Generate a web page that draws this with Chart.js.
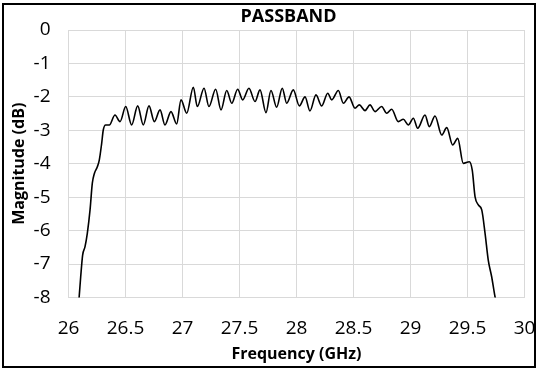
<!DOCTYPE html>
<html>
<head>
<meta charset="utf-8">
<script src="https://cdn.jsdelivr.net/npm/chart.js@4.4.1/dist/chart.umd.min.js"></script>
<style>
  html, body { margin: 0; padding: 0; background: #fff; }
  #wrap { position: relative; width: 539px; height: 370px; }
</style>
</head>
<body>
<div id="wrap"><canvas id="c" width="539" height="370"></canvas></div>
<script>
const chartTitle = "PASSBAND";
const xAxisTitle = "Frequency (GHz)";
const yAxisTitle = "Magnitude (dB)";

// Frequency (GHz)
const frequency = [
  26.092, 26.107, 26.124, 26.145, 26.165, 26.189, 26.209, 26.227, 26.253, 26.270,
  26.291, 26.305, 26.326, 26.358, 26.408, 26.452, 26.502, 26.554, 26.607, 26.656,
  26.706, 26.753, 26.803, 26.846, 26.899, 26.949, 26.987, 27.037, 27.095, 27.130,
  27.189, 27.232, 27.291, 27.338, 27.388, 27.432, 27.484, 27.528, 27.583, 27.636,
  27.680, 27.732, 27.776, 27.826, 27.875, 27.914, 27.972, 28.025, 28.075, 28.118,
  28.171, 28.221, 28.274, 28.309, 28.367, 28.411, 28.461, 28.513, 28.551, 28.601,
  28.645, 28.689, 28.747, 28.791, 28.835, 28.893, 28.937, 28.981, 29.025, 29.063,
  29.127, 29.165, 29.215, 29.274, 29.318, 29.370, 29.414, 29.463, 29.516, 29.542,
  29.566, 29.595, 29.625, 29.654, 29.682, 29.712, 29.741, 29.746
];
// Magnitude (dB)
const magnitude = [
  -8.05, -7.38, -6.73, -6.48, -6.08, -5.38, -4.58, -4.29, -4.09, -3.89,
  -3.39, -2.99, -2.84, -2.84, -2.54, -2.74, -2.29, -2.84, -2.27, -2.84,
  -2.27, -2.74, -2.39, -2.84, -2.44, -2.81, -2.09, -2.49, -1.71, -2.29,
  -1.74, -2.29, -1.77, -2.39, -1.81, -2.19, -1.77, -2.09, -1.74, -2.14,
  -1.79, -2.47, -1.81, -2.31, -1.74, -2.19, -1.79, -2.27, -2.00, -2.42,
  -1.94, -2.27, -1.89, -2.09, -1.81, -2.19, -2.00, -2.34, -2.24, -2.41,
  -2.24, -2.44, -2.29, -2.49, -2.37, -2.74, -2.67, -2.84, -2.64, -2.94,
  -2.54, -2.89, -2.57, -3.14, -2.92, -3.44, -3.24, -3.99, -3.94, -4.20,
  -4.98, -5.23, -5.38, -6.08, -6.88, -7.38, -7.97, -8.05
];
const xTickMin = 26, xTickMax = 30, xTickStep = 0.5;
const yTickMin = -8, yTickMax = 0, yTickStep = 1;

const points = frequency.map((f, i) => ({ x: f, y: magnitude[i] }));

const framePlugin = {
  id: 'frame',
  afterDraw(chart) {
    const ctx = chart.ctx;
    ctx.save();
    ctx.strokeStyle = '#000';
    ctx.lineWidth = 2;
    ctx.strokeRect(3, 4, 532, 363);
    ctx.fillStyle = '#000';
    ctx.font = 'bold 18px "Open Sans"';
    ctx.textAlign = 'center';
    ctx.textBaseline = 'middle';
    ctx.fillText(chartTitle, 288.5, 16.5);
    ctx.restore();
  }
};

const gridColor = '#d9d9d9';
new Chart(document.getElementById('c'), {
  type: 'line',
  data: {
    datasets: [{
      data: points,
      borderColor: '#000',
      borderWidth: 1.6,
      pointRadius: 0,
      fill: false,
      cubicInterpolationMode: 'monotone'
    }]
  },
  options: {
    responsive: false,
    animation: false,
    devicePixelRatio: 1,
    layout: { padding: { top: 30, right: 14.5, left: 0, bottom: 0 } },
    plugins: {
      legend: { display: false },
      tooltip: { enabled: false },
      title: { display: false }
    },
    scales: {
      x: {
        type: 'linear',
        min: xTickMin, max: xTickMax,
        afterFit(s) { s.height = 72.5; s.paddingLeft = 0; s.paddingRight = 0; },
        ticks: {
          stepSize: xTickStep,
          color: '#000',
          padding: 20,
          font: { family: '"Open Sans"', size: 19 },
          callback: v => String(v)
        },
        grid: { color: gridColor, lineWidth: 1, drawTicks: false },
        border: { color: gridColor },
        title: {
          display: true, text: xAxisTitle, color: '#000',
          font: { family: '"Open Sans"', size: 16, weight: 'bold' },
          padding: { top: 0, bottom: 6 }
        }
      },
      y: {
        type: 'linear',
        min: yTickMin, max: yTickMax,
        afterFit(s) { s.width = 68.5; s.paddingTop = 0; s.paddingBottom = 0; },
        ticks: {
          stepSize: yTickStep,
          color: '#000',
          padding: 18,
          font: { family: '"Open Sans"', size: 19 },
          callback: v => String(v)
        },
        grid: { color: gridColor, lineWidth: 1, drawTicks: false },
        border: { color: gridColor },
        title: {
          display: true, text: yAxisTitle, color: '#000',
          font: { family: '"Open Sans"', size: 16, weight: 'bold' },
          padding: { top: 9.5, bottom: 0 }
        }
      }
    }
  },
  plugins: [framePlugin]
});
</script>
</body>
</html>
